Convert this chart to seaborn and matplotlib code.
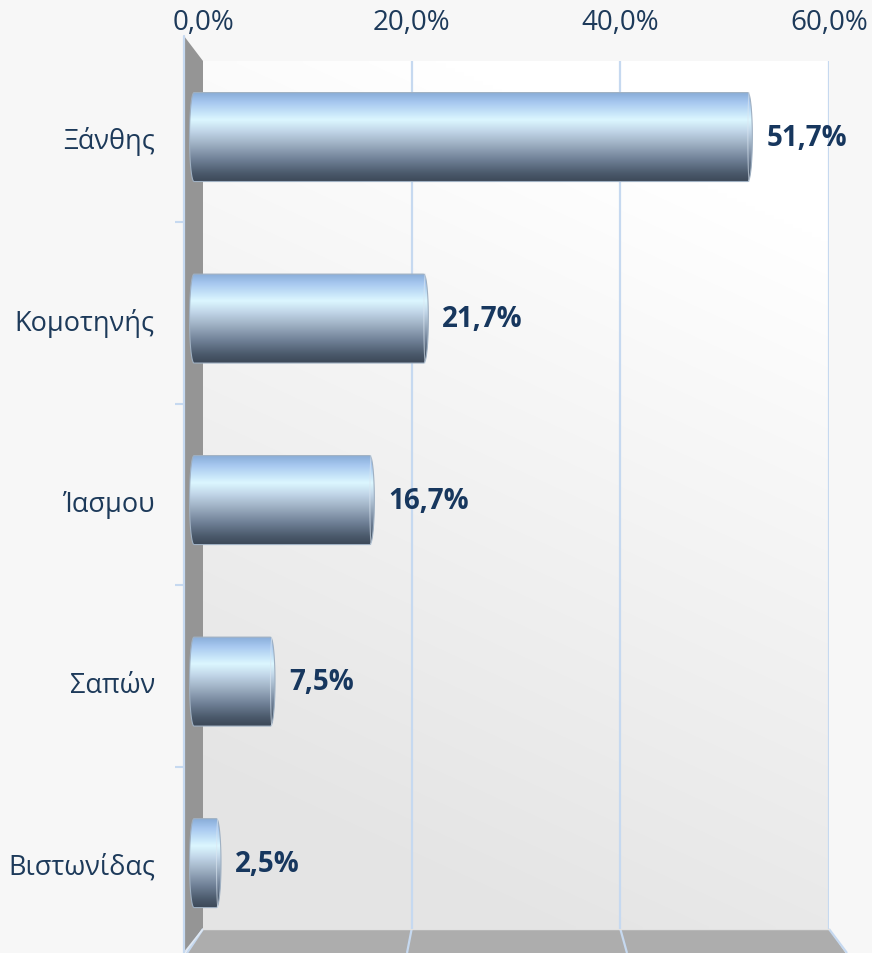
import numpy as np
import pandas as pd
import matplotlib
matplotlib.use("Agg")
import matplotlib.pyplot as plt
import seaborn as sns
from matplotlib.colors import LinearSegmentedColormap
from matplotlib.patches import Polygon, PathPatch
from matplotlib.path import Path
from matplotlib.ticker import FixedLocator

# ---------------- data ----------------
categories = ["Ξάνθης", "Κομοτηνής", "Ίασμου", "Σαπών", "Βιστωνίδας"]
values = [51.7, 21.7, 16.7, 7.5, 2.5]
value_labels = ["51,7%", "21,7%", "16,7%", "7,5%", "2,5%"]
xticks = [0, 20, 40, 60]
xtick_labels = ["0,0%", "20,0%", "40,0%", "60,0%"]

# ---------------- style ----------------
W, H = 872, 954
sns.set_theme(style="white")
plt.rcParams['font.family'] = ['Open Sans', 'DejaVu Sans']
TEXT = '#1d3a5a'
VAL = '#17375e'
GRID = '#c6d9f0'

fig = plt.figure(figsize=(W / 100, H / 100), dpi=100, facecolor='#f7f7f7')


def fbox(x0, y0, x1, y1):
    return [x0 / W, 1 - y1 / H, (x1 - x0) / W, (y1 - y0) / H]


# overlay in pixel coordinates for the 3D walls
ov = fig.add_axes([0, 0, 1, 1], zorder=0)
ov.set_xlim(0, W)
ov.set_ylim(H, 0)
ov.axis('off')

WX0, WY0, WX1, WY1 = 203, 62, 829, 930
FRONT0, FRONT_PX = 187, 11.0   # front floor edge scale

# left wall
ov.add_patch(Polygon([(184, 37), (WX0, WY0), (WX0, WY1), (184, 954)],
                     closed=True, facecolor='#959595', edgecolor='none'))
# floor
ov.add_patch(Polygon([(WX0, WY1), (WX1, WY1), (FRONT0 + 60 * FRONT_PX, H + 2), (FRONT0 - 2, H + 2)],
                     closed=True, facecolor='#adadad', edgecolor='none'))
px_per = (WX1 - WX0) / 60.0
for v in xticks:
    ov.plot([WX0 + v * px_per, FRONT0 + v * FRONT_PX], [WY1, H], color=GRID, lw=1.6,
            solid_capstyle='butt')
ov.plot([WX0, 184], [WY1, H], color='#dfe8f3', lw=1.2)
ov.plot([184, 184], [37, H], color=GRID, lw=1.6)
ov.plot([WX0, WX1], [WY1, WY1], color='#e2e2e2', lw=1.0)

# back wall
ax_back = fig.add_axes(fbox(WX0, WY0, WX1, WY1), zorder=1)
ny, nx = 200, 200
yy, xx = np.mgrid[0:1:ny * 1j, 0:1:nx * 1j]   # yy: 0 top -> 1 bottom
s = np.clip(yy * 1.05 + (1 - xx) * 0.35 - 0.22, 0, 1)
g = 1.0 - 0.105 * s
img = np.dstack([g, g, g])
ax_back.imshow(img, extent=(0, 60, 0, 1), origin='upper', aspect='auto',
               interpolation='bilinear', zorder=0)
ax_back.set_xlim(0, 60)
ax_back.set_ylim(0, 1)
for v in xticks[1:]:
    ax_back.axvline(v, color=GRID, lw=1.6, zorder=1)
for sp in ax_back.spines.values():
    sp.set_visible(False)
ax_back.xaxis.tick_top()
ax_back.set_xticks(xticks)
ax_back.set_xticklabels(xtick_labels)
ax_back.tick_params(axis='x', top=True, bottom=False, length=0, pad=18,
                    labelsize=20, labelcolor=TEXT)
ax_back.set_yticks([])

# bars (front plane)
BX0 = 184
PX_BAR = 10.8
ZERO_PX = 194
xmin = -(ZERO_PX - BX0) / PX_BAR
ax_bar = fig.add_axes(fbox(BX0, WY0, BX0 + 60 * PX_BAR, WY1), zorder=2)
ax_bar.patch.set_alpha(0)

df = pd.DataFrame({"cat": categories, "val": values})
sns.barplot(data=df, x="val", y="cat", orient='h', ax=ax_bar, width=0.49,
            color='#8fb1dc', saturation=1)

ylim = (-0.419 + 4.782, -0.419)
xlim = (xmin, xmin + 60)

stops = [(0.00, '#8aaed9'), (0.10, '#a6c7ef'), (0.30, '#dcf7ff'), (0.42, '#c3d8ea'),
         (0.55, '#a4b6c9'), (0.75, '#6f8096'), (0.90, '#4b5a6c'), (1.00, '#3c4857')]
cmap = LinearSegmentedColormap.from_list('cyl', [(p, c) for p, c in stops])
grad = cmap(np.linspace(0, 1, 256))[:, :3].reshape(256, 1, 3)

rx = 4.5 / PX_BAR
for p in list(ax_bar.patches):
    x0 = p.get_x()
    w = p.get_width()
    yb = p.get_y()
    h = p.get_height()
    p.set_visible(False)
    x1 = x0 + w
    yt, ybot = yb, yb + h          # yt visually top (inverted axis)
    yc = yb + h / 2
    t = np.linspace(-np.pi / 2, np.pi / 2, 40)
    right = [(x1 - rx + rx * np.cos(a), yc + (h / 2) * np.sin(a)) for a in t]
    left = [(x0 - rx * np.cos(a), yc - (h / 2) * np.sin(a)) for a in t]
    verts = right + left + [right[0]]
    path = Path(verts)
    clip = PathPatch(path, transform=ax_bar.transData, facecolor='none', edgecolor='none')
    ax_bar.add_patch(clip)
    im = ax_bar.imshow(grad, extent=(x0 - rx, x1, ybot, yt), origin='upper',
                       aspect='auto', interpolation='bilinear', zorder=3)
    im.set_clip_path(clip)
    ax_bar.add_patch(PathPatch(path, transform=ax_bar.transData, facecolor='none',
                               edgecolor='#9fb0c2', lw=0.8, zorder=4))
    cap = [(x1 - rx - rx * np.cos(a) * 0.35 + rx * 0.35, yc + (h / 2) * np.sin(a)) for a in t]
    ax_bar.plot([c[0] for c in cap], [c[1] for c in cap], color='#dbe6f1', lw=0.8,
                alpha=0.6, zorder=4)

for i, (v, lab) in enumerate(zip(values, value_labels)):
    ax_bar.annotate(lab, xy=(v, i), xytext=(10, 0), textcoords='offset points',
                    ha='left', va='center', fontsize=20, fontweight='bold', color=VAL,
                    zorder=5)

ax_bar.set_xlim(*xlim)
ax_bar.set_ylim(*ylim)
ax_bar.set_xlabel('')
ax_bar.set_ylabel('')
ax_bar.set_xticks([])
for sp in ax_bar.spines.values():
    sp.set_visible(False)
ax_bar.yaxis.set_minor_locator(FixedLocator([k + 0.47 for k in range(len(categories) - 1)]))
ax_bar.tick_params(axis='y', which='major', left=False, length=0, pad=21,
                   labelsize=19.5, labelcolor=TEXT)
ax_bar.tick_params(axis='y', which='minor', left=True, length=6.5, width=1.5,
                   color=GRID, direction='out')
ax_bar.grid(False)

fig.savefig('out.png', dpi=100, facecolor=fig.get_facecolor())
